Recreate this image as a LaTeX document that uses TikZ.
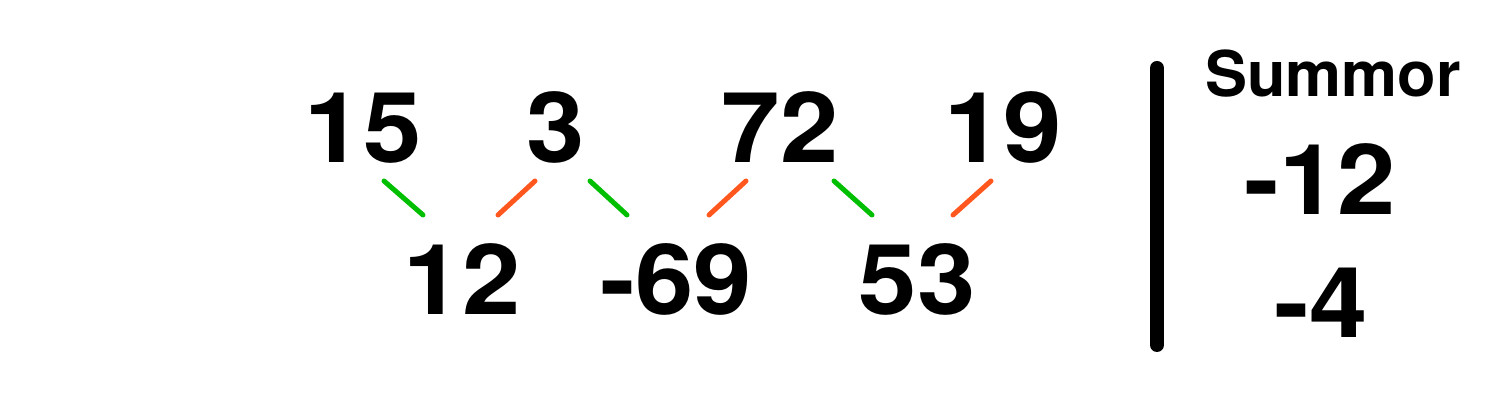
\documentclass[tikz,border=0pt]{standalone}
\usepackage{fontspec}
\setmainfont{TeX Gyre Heros}
\newfontfamily\widefont[FakeStretch=1.07]{TeX Gyre Heros}
\definecolor{lgreen}{RGB}{0,190,0}
\definecolor{lorange}{RGB}{255,87,30}
\begin{document}
\begin{tikzpicture}[x=1pt,y=1pt,
  num/.style={inner sep=0pt,anchor=base,font=\widefont\fontsize{98}{98}\bfseries\selectfont},
  head/.style={inner sep=0pt,anchor=base,font=\fontsize{63}{63}\bfseries\selectfont},
  gl/.style={draw=lgreen,line width=5pt,line cap=round},
  ol/.style={draw=lorange,line width=5pt,line cap=round}]
\useasboundingbox (0,0) rectangle (1500,403);
\node[num] (n15) at (363,240) {15};
\node[num] (n3) at (556,240) {3};
\node[num] (n72) at (780,240) {72};
\node[num] (n19) at (1003,240) {19};
\node[num] (n12) at (462,88) {12};
\node[num] (n69) at (676,88) {-69};
\node[num] (n53) at (917,88) {53};
\coordinate (g1a) at (384,222); \coordinate (g1b) at (423,188);
\coordinate (o1a) at (498,188); \coordinate (o1b) at (535,222);
\coordinate (g2a) at (590,222); \coordinate (g2b) at (627,188);
\coordinate (o2a) at (709,188); \coordinate (o2b) at (746,222);
\coordinate (g3a) at (834,222); \coordinate (g3b) at (872,188);
\coordinate (o3a) at (953,188); \coordinate (o3b) at (991,222);
\draw[gl] (g1a) -- (g1b);
\draw[ol] (o1a) -- (o1b);
\draw[gl] (g2a) -- (g2b);
\draw[ol] (o2a) -- (o2b);
\draw[gl] (g3a) -- (g3b);
\draw[ol] (o3a) -- (o3b);
\coordinate (bt) at (1157,335); \coordinate (bb) at (1157,58);
\draw[line width=14pt,line cap=round] (bt) -- (bb);
\node[head] (sum) at (1333,306) {Summor};
\node[num] (s1) at (1320,188) {-12};
\node[num] (s2) at (1321,65) {-4};
\end{tikzpicture}
\end{document}
